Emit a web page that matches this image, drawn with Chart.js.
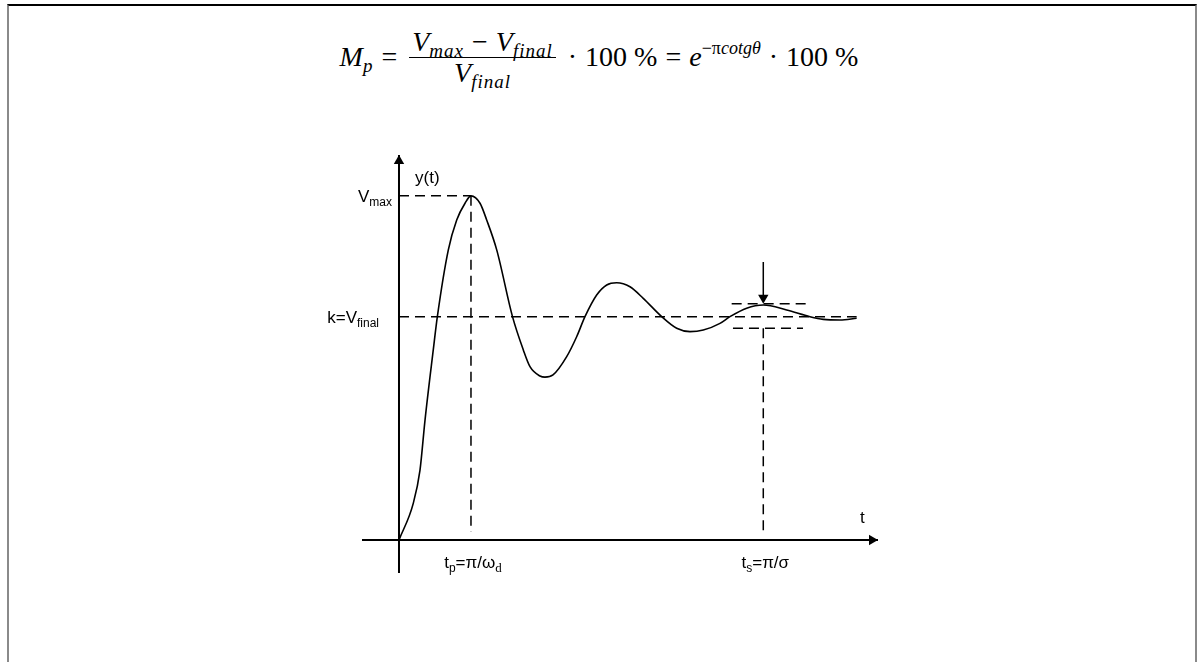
<!DOCTYPE html>
<html lang="en">
<head>
<meta charset="UTF-8">
<title>Step response: overshoot and settling time</title>
<script src="https://cdn.jsdelivr.net/npm/chart.js"></script>
<style>
    body {
        margin: 0;
        width: 1198px;
        height: 662px;
        overflow: hidden;
        background: #fff;
        position: relative;
    }
    #frame {
        position: absolute;
        left: 7px;
        top: 4px;
        width: 1186px;
        height: 700px;
        border-top: 2px solid #000;
        border-left: 2px solid #8a8a8a;
        border-right: 2px solid #8a8a8a;
    }
    #formula {
        position: absolute;
        left: 0;
        top: 27px;
        width: 1198px;
        height: 60px;
        display: flex;
        align-items: center;
        justify-content: center;
        font-family: "Liberation Serif", serif;
        font-size: 28px;
        color: #000;
        white-space: pre;
    }
    #formula .it { font-style: italic; }
    #formula sub, #formula sup { font-size: 19px; line-height: 0; }
    #formula sub { vertical-align: -6px; letter-spacing: 1px; }
    #formula sup { vertical-align: 12px; font-size: 18px; }
    #formula .op { margin: 0 8px; }
    .frac {
        display: inline-flex;
        flex-direction: column;
        align-items: center;
        margin: 0 4px;
    }
    .frac .num, .frac .den {
        height: 30px;
        line-height: 30px;
        padding: 0 3px;
    }
    .frac .num { border-bottom: 1px solid #000; }
    #c { position: absolute; left: 0; top: 0; }
</style>
</head>
<body>
<div id="frame"></div>
<div id="formula"><span><span class="it">M</span><sub class="it">p</sub></span><span class="op">=</span><span class="frac"><span class="num"><span class="it">V</span><sub class="it">max</sub><span class="op">−</span><span class="it">V</span><sub class="it">final</sub></span><span class="den"><span class="it">V</span><sub class="it">final</sub></span></span><span class="op">·</span><span>100 %</span><span class="op">=</span><span><span class="it">e</span><sup>−π<span class="it">cotgθ</span></sup></span><span class="op">·</span><span>100 %</span></div>
<canvas id="c" width="1198" height="662"></canvas>

<script>
// step response y(t) (t in units of tp, y in units of Vfinal)
const tValues = [0, 0.199, 0.293, 0.363, 0.478, 0.535, 0.688, 0.805, 0.921, 1.004,
    1.13, 1.223, 1.363, 1.583, 1.734, 1.827, 1.967, 2.036, 2.148, 2.339,
    2.478, 2.594, 2.757, 2.897, 3.036, 3.222, 3.407, 3.664, 3.873, 4.059,
    4.244, 4.477, 4.616, 4.849, 5.081, 5.407, 5.732, 5.918, 6.151, 6.383];
const yValues = [0, 0.164, 0.313, 0.537, 0.851, 1.0, 1.299, 1.433, 1.508, 1.541,
    1.508, 1.433, 1.299, 1.0, 0.851, 0.776, 0.734, 0.729, 0.739, 0.821,
    0.910, 1.0, 1.097, 1.142, 1.152, 1.134, 1.082, 1.0, 0.948, 0.933,
    0.940, 0.970, 1.0, 1.038, 1.052, 1.030, 1.0, 0.988, 0.985, 0.993];

// marked levels and times
const V_FINAL = 1.0;
const V_MAX = 1.541;
const T_P = 1.004;
const T_S = 5.081;
const TOL_HIGH = 1.058;
const TOL_LOW = 0.948;
const tolHighRange = [4.640, 5.686];
const tolLowRange = [4.658, 5.635];
const finalEnd = 6.383;
const dropFoot = 0.036;      // where the vertical dashed lines stop above the t axis
const arrowTop = 1.245;      // top of the settling arrow

// axis extents
const xMin = -0.516, xMax = 6.681;
const yMin = -0.148, yMax = 1.724;

// labels, split into [text, style] pieces
const yLabelValues = [V_MAX, V_FINAL];
const yLabelParts = [
    [['V', 'main'], ['max', 'sub']],
    [['k=V', 'main'], ['final', 'sub']]
];
const xLabelValues = [T_P, T_S];
const xLabelParts = [
    [['t', 'main'], ['p', 'sub'], ['=π/ω', 'main'], ['d', 'subSerif']],
    [['t', 'main'], ['s', 'sub'], ['=π/σ', 'main']]
];
const yAxisTitle = 'y(t)';
const xAxisTitle = 't';

const curve = tValues.map((t, i) => ({ x: t, y: yValues[i] }));

function seg(x1, y1, x2, y2) {
    return [{ x: x1, y: y1 }, { x: x2, y: y2 }];
}

const dashStyle = {
    borderColor: '#000',
    borderWidth: 1.5,
    borderDash: [10, 6],
    pointRadius: 0,
    fill: false
};

const fonts = {
    main: '17px "Liberation Sans", Arial, sans-serif',
    sub: '12px "Liberation Sans", Arial, sans-serif',
    subSerif: '13px "Liberation Serif", serif'
};

const labelPlugin = {
    id: 'labelPlugin',
    afterDatasetsDraw(chart) {
        const { ctx, scales: { x, y } } = chart;
        ctx.save();
        ctx.fillStyle = '#000';
        ctx.textBaseline = 'alphabetic';

        function widthOf(parts) {
            let w = 0;
            parts.forEach(p => { ctx.font = fonts[p[1]]; w += ctx.measureText(p[0]).width; });
            return w;
        }
        function drawParts(parts, left, base) {
            let cx = left;
            parts.forEach(p => {
                ctx.font = fonts[p[1]];
                const dy = p[1] === 'main' ? 0 : 4;
                ctx.fillText(p[0], cx, base + dy);
                cx += ctx.measureText(p[0]).width;
            });
        }

        const x0 = x.getPixelForValue(0);
        const y0 = y.getPixelForValue(0);

        const gaps = [7, 20];
        yLabelValues.forEach((v, i) => {
            const w = widthOf(yLabelParts[i]);
            drawParts(yLabelParts[i], x0 - gaps[i] - w, y.getPixelForValue(v) + 6);
        });

        xLabelValues.forEach((v, i) => {
            const w = widthOf(xLabelParts[i]);
            drawParts(xLabelParts[i], x.getPixelForValue(v) - w / 2 + 2, y0 + 28);
        });

        ctx.font = fonts.main;
        ctx.fillText(yAxisTitle, x0 + 16, y.top + 28);
        ctx.fillText(xAxisTitle, x.right - 18, y0 - 17);
        ctx.restore();
    }
};

new Chart(document.getElementById('c'), {
    type: 'line',
    data: {
        datasets: [
            { data: curve, borderColor: '#000', borderWidth: 1.6, pointRadius: 0,
              cubicInterpolationMode: 'monotone', fill: false },
            // axes
            { data: seg(xMin, 0, xMax, 0), borderColor: '#000', borderWidth: 2, pointRadius: 0 },
            { data: seg(0, yMin, 0, yMax), borderColor: '#000', borderWidth: 2, pointRadius: 0 },
            // guide lines
            Object.assign({ data: seg(0, V_MAX, T_P, V_MAX) }, dashStyle),
            Object.assign({ data: seg(T_P, V_MAX, T_P, dropFoot) }, dashStyle),
            Object.assign({ data: seg(0, V_FINAL, finalEnd, V_FINAL) }, dashStyle),
            Object.assign({ data: seg(tolHighRange[0], TOL_HIGH, tolHighRange[1], TOL_HIGH) }, dashStyle),
            Object.assign({ data: seg(tolLowRange[0], TOL_LOW, tolLowRange[1], TOL_LOW) }, dashStyle),
            Object.assign({ data: seg(T_S, TOL_LOW, T_S, dropFoot) }, dashStyle),
            // settling arrow
            { data: seg(T_S, arrowTop, T_S, TOL_HIGH + 0.02), borderColor: '#000', borderWidth: 1.5, pointRadius: 0 },
            // arrow heads
            { type: 'scatter',
              data: [{ x: 0, y: 1.697 }, { x: 6.597, y: 0 }, { x: T_S, y: 1.085 }],
              pointStyle: 'triangle',
              rotation: [0, 90, 180],
              pointRadius: [6, 6, 6],
              backgroundColor: '#000',
              borderColor: '#000',
              borderWidth: 0,
              showLine: false }
        ]
    },
    options: {
        responsive: false,
        animation: false,
        devicePixelRatio: 1,
        clip: false,
        layout: { padding: { left: 362, right: 320, top: 155, bottom: 89 } },
        plugins: { legend: { display: false }, tooltip: { enabled: false } },
        scales: {
            x: { type: 'linear', min: xMin, max: xMax, display: false },
            y: { type: 'linear', min: yMin, max: yMax, display: false }
        }
    },
    plugins: [labelPlugin]
});
</script>
</body>
</html>
